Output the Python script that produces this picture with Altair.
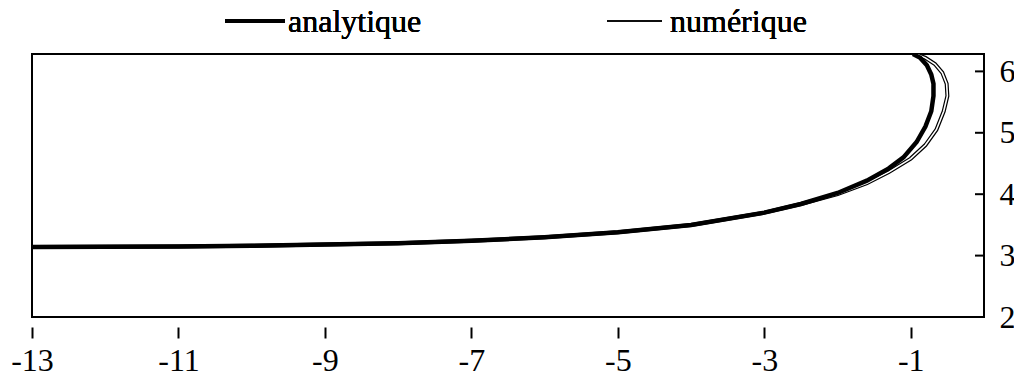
import altair as alt
import pandas as pd

# analytic solution (parametric curve, in drawing order)
ana_x = [-13, -12, -11, -10, -9, -8, -7, -6, -5, -4, -3, -2.5, -2, -1.6, -1.3,
         -1.1, -0.92, -0.8, -0.72, -0.69, -0.69, -0.72, -0.78, -0.87, -0.97]
ana_y = [3.142, 3.145, 3.15, 3.16, 3.18, 3.20, 3.24, 3.30, 3.38, 3.50, 3.70, 3.84,
         4.02, 4.22, 4.42, 4.60, 4.85, 5.10, 5.35, 5.60, 5.80, 5.95, 6.10, 6.22, 6.283]

# numerical solution
num_x = [-13, -12, -11, -10, -9, -8, -7, -6, -5, -4, -3, -2.5, -2, -1.6, -1.3,
         -1.0, -0.8, -0.65, -0.55, -0.5, -0.51, -0.57, -0.67, -0.8, -0.93]
num_y = [3.142, 3.145, 3.15, 3.16, 3.18, 3.20, 3.24, 3.30, 3.38, 3.50, 3.70, 3.84,
         4.00, 4.18, 4.36, 4.58, 4.80, 5.05, 5.35, 5.60, 5.80, 5.98, 6.12, 6.22, 6.283]

x_ticks = [-13, -11, -9, -7, -5, -3, -1]
y_ticks = [2, 3, 4, 5, 6]
inner_ticks = [3, 4, 5, 6]

W, H = 952, 263
FONT = "Liberation Serif"
FS = 32

ana = pd.DataFrame({"x": ana_x, "y": ana_y, "i": range(len(ana_x))})
num = pd.DataFrame({"x": num_x, "y": num_y, "i": range(len(num_x))})
tk = pd.DataFrame({"y": inner_ticks})

xs = alt.Scale(domain=[-13, 0], nice=False, zero=False)
ys = alt.Scale(domain=[2, 6.2832], nice=False, zero=False)

xaxis = alt.Axis(values=x_ticks, title=None, grid=False, domain=False, offset=10,
                 tickSize=11, tickColor="black", tickWidth=2, labelPadding=7,
                 labelFlush=False, labelOverlap=False,
                 labelFont=FONT, labelFontSize=FS, labelColor="black",
                 labelExpr="'' + datum.value")
yaxis = alt.Axis(values=y_ticks, title=None, grid=False, domain=False, orient="right",
                 ticks=False, labelPadding=15, labelFlush=False, labelOverlap=False,
                 labelFont=FONT, labelFontSize=FS,
                 labelColor="black", labelExpr="'' + datum.value")

X = alt.X("x:Q", scale=xs, axis=xaxis)
Y = alt.Y("y:Q", scale=ys, axis=yaxis)

num_outer = alt.Chart(num).mark_line(color="black", strokeWidth=4, clip=True).encode(
    x=X, y=Y, order="i:Q")
num_inner = alt.Chart(num).mark_line(color="white", strokeWidth=1.6, clip=True).encode(
    x=X, y=Y, order="i:Q")
ana_line = alt.Chart(ana).mark_line(color="black", strokeWidth=4.5, clip=True).encode(
    x=X, y=Y, order="i:Q")
ticks = alt.Chart(tk).mark_rule(color="black", strokeWidth=2).encode(
    y=Y, x=alt.value(W - 9), x2=alt.value(W))

# legend
leg1_line = alt.Chart(tk).mark_rule(color="black", strokeWidth=4).encode(
    x=alt.value(193), x2=alt.value(253), y=alt.value(-33))
leg1_text = alt.Chart(tk).mark_text(text="analytique", align="left", baseline="alphabetic",
                                    font=FONT, fontSize=FS, color="black").encode(
    x=alt.value(256), y=alt.value(-22))
leg2_line = alt.Chart(tk).mark_rule(color="black", strokeWidth=1.2).encode(
    x=alt.value(575), x2=alt.value(630), y=alt.value(-33))
leg2_text = alt.Chart(tk).mark_text(text="numérique", align="left", baseline="alphabetic",
                                    font=FONT, fontSize=FS, color="black").encode(
    x=alt.value(638), y=alt.value(-22))

chart = alt.layer(num_outer, num_inner, ana_line, ticks,
                  leg1_line, leg1_text, leg2_line, leg2_text).properties(
    width=W, height=H,
    background="white",
    autosize=alt.AutoSizeParams(type="none"),
    padding={"left": 24, "top": 46, "right": 30, "bottom": 60},
).configure_view(stroke="black", strokeWidth=2, strokeOpacity=1)

chart.save("out.html", embed_options={"renderer": "svg", "actions": False})
